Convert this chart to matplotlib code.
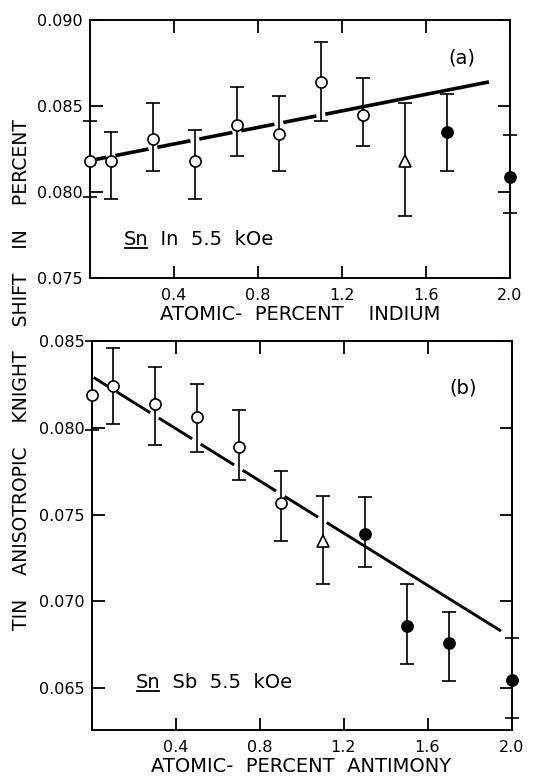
import numpy as np
import matplotlib
matplotlib.use("Agg")
import matplotlib.pyplot as plt
from matplotlib.lines import Line2D

plt.rcParams['font.family'] = ['DejaVu Sans']
plt.rcParams['lines.scale_dashes'] = False

# (a) Sn-In, 5.5 kOe
in_x = [0.0, 0.1, 0.3, 0.5, 0.7, 0.9, 1.1, 1.3]
in_y = [0.0818, 0.0818, 0.0831, 0.0818, 0.0839, 0.0834, 0.0864, 0.0845]
in_lo = [0.0797, 0.0796, 0.0812, 0.0796, 0.0821, 0.0812, 0.0841, 0.0827]
in_hi = [0.0841, 0.0835, 0.0852, 0.0836, 0.0861, 0.0856, 0.0887, 0.0866]
in_tri_x = [1.5]
in_tri_y = [0.0818]
in_tri_lo = [0.0786]
in_tri_hi = [0.0852]
in_fill_x = [1.7, 2.0]
in_fill_y = [0.0835, 0.0809]
in_fill_lo = [0.0812, 0.0788]
in_fill_hi = [0.0857, 0.0833]
fit_a_x = [0.03, 1.90]
fit_a_y = [0.0819, 0.0864]

# (b) Sn-Sb, 5.5 kOe
sb_x = [0.0, 0.1, 0.3, 0.5, 0.7, 0.9]
sb_y = [0.0819, 0.0824, 0.0814, 0.0806, 0.0789, 0.0757]
sb_lo = [0.0799, 0.0802, 0.0790, 0.0786, 0.0770, 0.0735]
sb_hi = [0.0850, 0.0846, 0.0835, 0.0825, 0.0810, 0.0775]
sb_tri_x = [1.1]
sb_tri_y = [0.0735]
sb_tri_lo = [0.0710]
sb_tri_hi = [0.0761]
sb_fill_x = [1.3, 1.5, 1.7, 2.0]
sb_fill_y = [0.0739, 0.0686, 0.0676, 0.0655]
sb_fill_lo = [0.0720, 0.0664, 0.0654, 0.0633]
sb_fill_hi = [0.0760, 0.0710, 0.0694, 0.0679]
fit_b_x = [0.01, 1.95]
fit_b_y = [0.0829, 0.0683]

x_ticks = [0.4, 0.8, 1.2, 1.6, 2.0]
x_labels = ['0.4', '0.8', '1.2', '1.6', '2.0']
ya_ticks = [0.075, 0.080, 0.085, 0.090]
ya_labels = ['0.075', '0.080', '0.085', '0.090']
yb_ticks = [0.065, 0.070, 0.075, 0.080, 0.085]
yb_labels = ['0.065', '0.070', '0.075', '0.080', '0.085']


def err(y, lo, hi):
    y = np.asarray(y)
    return [y - np.asarray(lo), np.asarray(hi) - y]


def draw_points(ax, x, y, lo, hi, marker, face, size):
    ax.errorbar(x, y, yerr=err(y, lo, hi), fmt='none', ecolor='black',
                elinewidth=1.2, capsize=5, capthick=1.2, zorder=3, clip_on=False)
    ax.plot(x, y, linestyle='none', marker=marker, ms=size, mfc=face, mec='black',
            mew=1.2, zorder=4, clip_on=False)


def style_axes(ax, yticks, ylabels):
    ax.set_xlim(0, 2.0)
    ax.set_xticks(x_ticks)
    ax.set_xticklabels(x_labels)
    ax.set_yticks(yticks)
    ax.set_yticklabels(ylabels)
    ax.tick_params(direction='in', length=9, width=1.3, top=True, right=True,
                   labelsize=11.5)
    ax.tick_params(axis='x', pad=7)
    ax.tick_params(axis='y', pad=5)
    for s in ax.spines.values():
        s.set_linewidth(1.4)


def sample_label(ax, x, y, rest):
    # "Sn" is underlined in the original, the rest follows on the same baseline
    t = ax.text(x, y, 'Sn', fontsize=14, va='baseline')
    ax.annotate(rest, xy=(1, 0), xycoords=t, va='bottom', ha='left', fontsize=14)
    return t


fig = plt.figure(figsize=(5.43, 7.78), dpi=100)

# ---- panel (a)
ax1 = fig.add_axes([90 / 543, 1 - 278 / 778, 420 / 543, 258 / 778])
ax1.plot(fit_a_x, fit_a_y, color='black', lw=2.6, zorder=2,
         linestyle=(16.8, [24.3, 6.5] * 6 + [300, 1]))
draw_points(ax1, in_x, in_y, in_lo, in_hi, 'o', 'white', 8)
draw_points(ax1, in_tri_x, in_tri_y, in_tri_lo, in_tri_hi, '^', 'white', 9)
draw_points(ax1, in_fill_x, in_fill_y, in_fill_lo, in_fill_hi, 'o', 'black', 8)
ax1.set_ylim(0.075, 0.090)
style_axes(ax1, ya_ticks, ya_labels)
ax1.set_xlabel('ATOMIC-  PERCENT    INDIUM', fontsize=14, labelpad=2)
ax1.text(1.77, 0.0878, '(a)', fontsize=14, ha='center', va='center')
sn_a = sample_label(ax1, 0.16, 0.0769, '  In  5.5  kOe')

# ---- panel (b)
ax2 = fig.add_axes([91.5 / 543, 1 - 730 / 778, 420 / 543, 389 / 778])
ax2.plot(fit_b_x, fit_b_y, color='black', lw=2.1, zorder=2,
         linestyle=(16.0, [28.4, 7.2] * 6 + [400, 1]))
draw_points(ax2, sb_x, sb_y, sb_lo, sb_hi, 'o', 'white', 8)
draw_points(ax2, sb_tri_x, sb_tri_y, sb_tri_lo, sb_tri_hi, '^', 'white', 9)
draw_points(ax2, sb_fill_x, sb_fill_y, sb_fill_lo, sb_fill_hi, 'o', 'black', 8)
ax2.set_ylim(0.0626, 0.085)
style_axes(ax2, yb_ticks, yb_labels)
ax2.set_xlabel('ATOMIC-  PERCENT  ANTIMONY', fontsize=14, labelpad=2)
ax2.text(1.77, 0.0823, '(b)', fontsize=14, ha='center', va='center')
sn_b = sample_label(ax2, 0.21, 0.0650, '  Sb  5.5  kOe')

fig.text(0.040, 1 - 374 / 778,
         'TIN    ANISOTROPIC    KNIGHT    SHIFT    IN    PERCENT',
         rotation=90, ha='center', va='center', fontsize=13.5)

# underline "Sn"
fig.canvas.draw()
for t in (sn_a, sn_b):
    bb = t.get_window_extent()
    fig.add_artist(Line2D([bb.x0 + 1, bb.x1 - 1], [bb.y0 + 1, bb.y0 + 1],
                          transform=None, color='black', lw=1.3))

fig.savefig('out.png', dpi=100)
